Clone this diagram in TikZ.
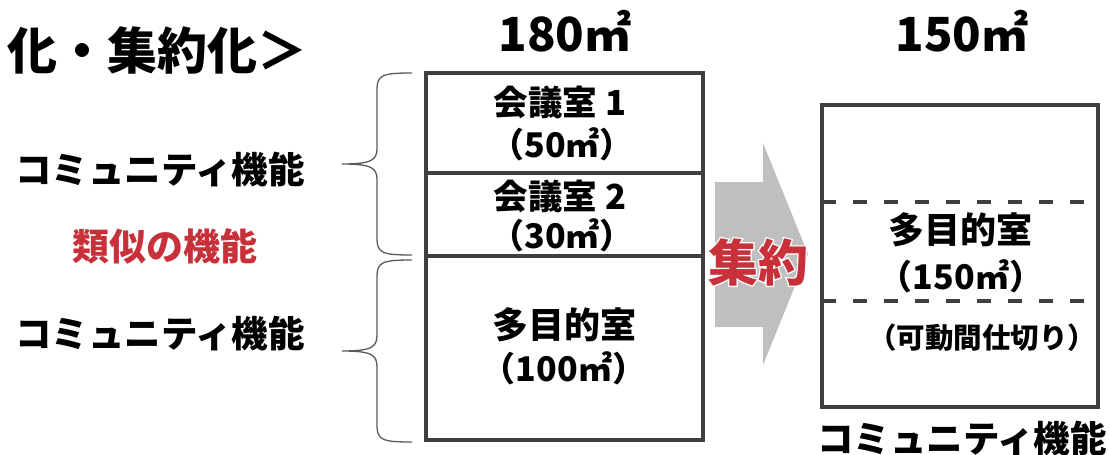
\documentclass[tikz,border=0pt]{standalone}
\usepackage{fontspec}
\setmainfont{Noto Sans CJK JP}
\newfontfamily\halofont{Noto Sans CJK JP}[BoldFeatures={FakeBold=5}]
\usetikzlibrary{positioning}
\definecolor{boxgray}{HTML}{404040}
\definecolor{bracegray}{HTML}{595959}
\definecolor{arrowgray}{HTML}{BFBFBF}
\definecolor{simred}{HTML}{C8303A}
\tikzset{
  room/.style={draw=boxgray,line width=4pt},
  partition/.style={draw=boxgray,line width=4pt,dash pattern=on 14pt off 17pt},
  brc/.style={draw=bracegray,line width=1.3pt},
  txt/.style={inner sep=0pt,font=\bfseries\fontsize{#1}{#1}\selectfont},
  txt/.default=34,
  halo/.style={inner sep=0pt,text=white,font=\halofont\bfseries\fontsize{50}{50}\selectfont}
}
\begin{document}
\begin{tikzpicture}[x=1pt,y=-1pt]
  \useasboundingbox (0,0) rectangle (1109,455);
  % heading
  \node[txt=50,anchor=west] (title) at (7,50) {化・集約化＞};
  \node[txt=47] (area180) at (565,31) {180㎡};
  \node[txt=47] (area150) at (962,31) {150㎡};
  % left labels
  \node[txt=36.5] (func1) at (160,170) {コミュニティ機能};
  \node[txt=37,text=simred] (similar) at (165,246) {類似の機能};
  \node[txt=36.5] (func2) at (160,333) {コミュニティ機能};
  % braces
  \draw[brc] (412,73) .. controls (382,73) and (377,75) .. (377,90) -- (377,148)
    .. controls (377,160) and (372,164) .. (342,164)
    .. controls (372,164) and (377,168) .. (377,180) -- (377,238)
    .. controls (377,253) and (382,255) .. (412,255);
  \draw[brc] (412,260) .. controls (382,260) and (377,262) .. (377,277) -- (377,335)
    .. controls (377,347) and (372,351) .. (342,351)
    .. controls (372,351) and (377,355) .. (377,367) -- (377,425)
    .. controls (377,440) and (382,442) .. (412,442);
  % before
  \draw[room] (426,73) rectangle (703,440);
  \draw[room] (426,173) -- (703,173);
  \draw[room] (426,256) -- (703,256);
  \node[txt=34.5] (conf1) at (560,102) {会議室 1};
  \node[txt=34] (conf1a) at (562,144) {（50㎡）};
  \node[txt=34.5] (conf2) at (560,196) {会議室 2};
  \node[txt=34] (conf2a) at (562,235) {（30㎡）};
  \node[txt=36] (multi) at (564,325) {多目的室};
  \node[txt=34] (multia) at (564,368) {（100㎡）};
  % arrow
  \fill[arrowgray] (715,182) -- (763,182) -- (763,143) -- (808,254) -- (763,365)
    -- (763,327) -- (715,327) -- cycle;
  \node[halo] (mergehalo) at (758,262) {集約};
  \node[txt=50,text=simred] (merge) at (758,262) {集約};
  % after
  \draw[room] (822,105) rectangle (1098,407);
  \draw[partition] (822,202) -- (1098,202);
  \draw[partition] (822,301) -- (1098,301);
  \node[txt=36] (multib) at (960,230) {多目的室};
  \node[txt=34] (multic) at (961,276) {（150㎡）};
  \node[txt=28.5] (movable) at (982,338) {（可動間仕切り）};
  \node[txt=36.5] (func3) at (962,438) {コミュニティ機能};
\end{tikzpicture}
\end{document}
